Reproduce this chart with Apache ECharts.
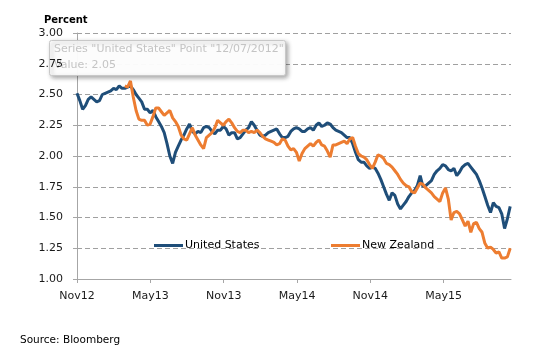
<!DOCTYPE html>
<html>
<head>
<meta charset="utf-8">
<script src="https://cdn.jsdelivr.net/npm/echarts@6/dist/echarts.min.js"></script>
<style>html,body{margin:0;padding:0;background:#fff;}#c{width:550px;height:362px;}</style>
</head>
<body>
<div id="c"></div>
<script>
// Weekly observations starting 2012-11-01 (week index 0)
var startDate = '2012-11-01';
var tickLabels = ['Nov12','May13','Nov13','May14','Nov14','May15'];
var tickDays = [0, 182.5, 365, 547.5, 730, 912.5];

var usStartWeek = 0;
var usValues = [
2.51,2.45,2.38,2.41,2.46,2.48,2.46,2.44,2.45,2.50,
2.51,2.52,2.53,2.55,2.54,2.57,2.55,2.55,2.56,2.57,
2.54,2.50,2.47,2.44,2.38,2.38,2.35,2.37,2.32,2.28,
2.24,2.19,2.10,2.00,1.94,2.03,2.08,2.13,2.17,2.22,
2.26,2.20,2.18,2.20,2.19,2.23,2.24,2.23,2.20,2.18,
2.21,2.21,2.24,2.22,2.17,2.19,2.19,2.14,2.15,2.18,
2.21,2.23,2.28,2.25,2.21,2.17,2.16,2.17,2.19,2.20,
2.21,2.22,2.18,2.15,2.15,2.16,2.20,2.22,2.23,2.22,
2.20,2.20,2.22,2.23,2.21,2.25,2.27,2.24,2.25,2.27,
2.26,2.23,2.21,2.20,2.19,2.17,2.15,2.15,2.10,2.03,
1.97,1.95,1.95,1.92,1.90,1.91,1.90,1.86,1.81,1.75,
1.69,1.64,1.70,1.68,1.61,1.57,1.60,1.63,1.67,1.70,
1.72,1.76,1.84,1.75,1.76,1.78,1.80,1.85,1.88,1.90,
1.93,1.92,1.89,1.88,1.90,1.84,1.87,1.91,1.93,1.94,
1.91,1.88,1.85,1.80,1.74,1.67,1.60,1.54,1.62,1.59,
1.58,1.53,1.41,1.49,1.59
];

var nzStartWeek = 17;
var nzValues = [
2.57,2.56,2.61,2.48,2.37,2.30,2.29,2.29,2.25,2.26,
2.32,2.39,2.39,2.36,2.33,2.35,2.37,2.31,2.28,2.24,
2.17,2.14,2.13,2.18,2.23,2.17,2.13,2.09,2.06,2.15,
2.17,2.19,2.23,2.29,2.27,2.25,2.28,2.30,2.27,2.23,
2.20,2.19,2.21,2.21,2.19,2.20,2.19,2.21,2.19,2.16,
2.14,2.13,2.12,2.11,2.09,2.10,2.14,2.13,2.08,2.05,
2.06,2.03,1.96,2.02,2.06,2.08,2.10,2.08,2.11,2.13,
2.09,2.08,2.04,1.99,2.09,2.09,2.10,2.11,2.12,2.10,
2.14,2.15,2.08,2.02,2.00,1.99,1.97,1.93,1.90,1.95,
2.01,2.00,1.98,1.94,1.93,1.91,1.88,1.85,1.81,1.78,
1.76,1.75,1.71,1.70,1.74,1.78,1.77,1.74,1.72,1.70,
1.67,1.65,1.63,1.70,1.74,1.65,1.48,1.54,1.55,1.53,
1.48,1.43,1.47,1.38,1.45,1.46,1.41,1.38,1.29,1.25,
1.26,1.24,1.21,1.22,1.17,1.17,1.18,1.25
];

function toPoints(startWeek, vals) {
  return vals.map(function (v, i) { return [(startWeek + i) * 7, v]; });
}

var FONT = 'DejaVu Sans';
var chart = echarts.init(document.getElementById('c'), null, {renderer: 'canvas'});
chart.setOption({
  animation: false,
  backgroundColor: '#ffffff',
  textStyle: {fontFamily: FONT},
  title: {
    text: 'Percent', left: 39, top: 10,
    textStyle: {fontFamily: FONT, fontSize: 10, fontWeight: 'bold', color: '#000'}
  },
  grid: {left: 77, right: 39, top: 33, bottom: 83, containLabel: false},
  legend: [
    {data: ['United States'], left: 149, top: 235, icon: 'rect', itemWidth: 29, itemHeight: 3, itemGap: 0,
     textStyle: {fontFamily: FONT, fontSize: 11, color: '#000', padding: [0, 0, 0, -3]}},
    {data: ['New Zealand'], left: 326, top: 235, icon: 'rect', itemWidth: 29, itemHeight: 3, itemGap: 0,
     textStyle: {fontFamily: FONT, fontSize: 11, color: '#000', padding: [0, 0, 0, -3]}}
  ],
  xAxis: {
    type: 'value', min: 0, max: 1080,
    axisLine: {show: true, lineStyle: {color: '#a6a6a6', width: 1}},
    axisTick: {show: true, length: 4, lineStyle: {color: '#a6a6a6'}, customValues: tickDays},
    axisLabel: {
      customValues: tickDays, margin: 12, fontFamily: FONT, fontSize: 11, color: '#1a1a1a',
      formatter: function (v) { var i = tickDays.indexOf(v); return i >= 0 ? tickLabels[i] : ''; }
    },
    splitLine: {show: false}
  },
  yAxis: [
    {
      type: 'value', min: 1, max: 3, interval: 0.25, z: 0,
      axisLine: {show: true, lineStyle: {color: '#a6a6a6', width: 1}},
      axisTick: {show: true, length: 4, lineStyle: {color: '#a6a6a6'}},
      axisLabel: {show: false},
      splitLine: {show: true, lineStyle: {color: '#a0a0a0', type: [5, 3], width: 1}}
    },
    {
      type: 'value', min: 1, max: 3, interval: 0.25, z: 10, position: 'left',
      axisLine: {show: false}, axisTick: {show: false}, splitLine: {show: false},
      axisLabel: {margin: 14, fontFamily: FONT, fontSize: 11, color: '#1a1a1a',
        formatter: function (v) { return v.toFixed(2); }}
    }
  ],
  series: [
    {name: 'United States', type: 'line', yAxisIndex: 0, data: toPoints(usStartWeek, usValues),
     showSymbol: false, symbol: 'none', lineStyle: {color: '#1f4e79', width: 3}, itemStyle: {color: '#1f4e79'}, z: 2},
    {name: 'New Zealand', type: 'line', yAxisIndex: 0, data: toPoints(nzStartWeek, nzValues),
     showSymbol: false, symbol: 'none', lineStyle: {color: '#ed7d31', width: 3}, itemStyle: {color: '#ed7d31'}, z: 3}
  ],
  graphic: [
    {type: 'rect', z: 5, shape: {x: 49.5, y: 40.5, width: 236, height: 35, r: 2},
     style: {fill: 'rgba(255,255,255,0.96)', stroke: '#c8c8c8', lineWidth: 1,
       shadowBlur: 4, shadowOffsetX: 2, shadowOffsetY: 2, shadowColor: 'rgba(0,0,0,0.35)'}},
    {type: 'text', z: 6, left: 54, top: 44,
     style: {text: 'Series "United States" Point "12/07/2012"', fill: '#c4c4c4', font: '11px "DejaVu Sans"'}},
    {type: 'text', z: 6, left: 54, top: 60,
     style: {text: 'Value: 2.05', fill: '#c4c4c4', font: '11px "DejaVu Sans"'}},
    {type: 'text', left: 20, top: 335,
     style: {text: 'Source: Bloomberg', fill: '#000', font: '10.5px "DejaVu Sans"'}}
  ]
});
</script>
</body>
</html>
